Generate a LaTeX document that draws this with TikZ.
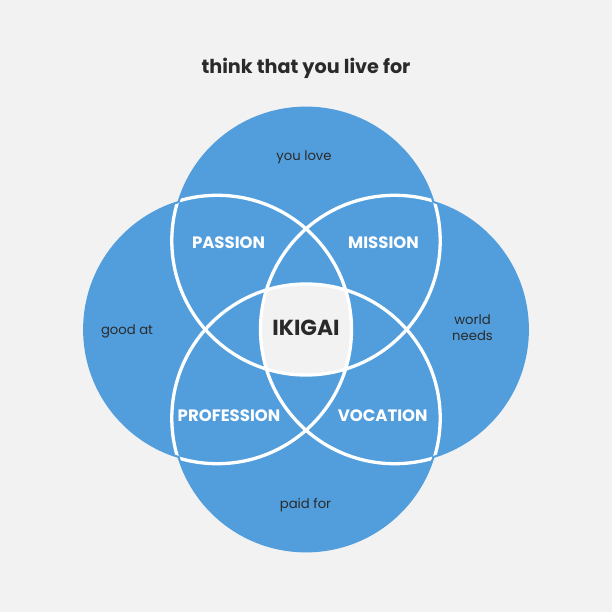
\documentclass[tikz,border=0pt]{standalone}
\usepackage{fontspec}
\setmainfont{Poppins}
\definecolor{bg}{HTML}{F2F2F2}
\definecolor{petal}{HTML}{529EDC}
\definecolor{ink}{HTML}{2A2A2A}
\begin{document}
\begin{tikzpicture}[x=1pt,y=-1pt,
  small/.style={font=\fontsize{13.2}{16.5}\selectfont, text=ink, align=center, inner sep=0pt},
  zone/.style={font=\fontsize{16.5}{18}\selectfont\bfseries, text=white, inner sep=0pt},
  outline/.style={draw=white, line width=3.3pt}]
\fill[bg] (0,0) rectangle (612,612);
\useasboundingbox (0,0) rectangle (612,612);
\def\R{134.2}
\def\Rc{132.0}
\coordinate (ct) at (306,240.8);
\coordinate (cl) at (217.3,329.5);
\coordinate (cr) at (394.7,329.5);
\coordinate (cb) at (306,418.2);
% union of the four circles
\fill[petal] (ct) circle[radius=\R] (cl) circle[radius=\R] (cr) circle[radius=\R] (cb) circle[radius=\R];
% centre region: intersection of all four
\begin{scope}
  \clip (ct) circle[radius=\R];
  \clip (cl) circle[radius=\R];
  \clip (cr) circle[radius=\R];
  \clip (cb) circle[radius=\R];
  \fill[bg] (0,0) rectangle (612,612);
\end{scope}
% white outlines inside the union
\begin{scope}
  \clip (ct) circle[radius=\Rc] (cl) circle[radius=\Rc] (cr) circle[radius=\Rc] (cb) circle[radius=\Rc];
  \draw[outline] (ct) circle[radius=\R];
  \draw[outline] (cl) circle[radius=\R];
  \draw[outline] (cr) circle[radius=\R];
  \draw[outline] (cb) circle[radius=\R];
\end{scope}
% texts
\node[font=\fontsize{19.2}{22}\selectfont\bfseries, text=ink, inner sep=0pt] (title) at (306,68) {think that you live for};
\node[small] (love) at (304,157) {you love};
\node[small] (good) at (127,331) {good at};
\node[small] (world) at (472.5,327.5) {world\\needs};
\node[small] (paid) at (305.5,505) {paid for};
\node[zone] (passion) at (228.5,243) {PASSION};
\node[zone] (mission) at (383.5,243) {MISSION};
\node[zone] (profession) at (229,415.7) {PROFESSION};
\node[zone] (vocation) at (382.7,415.7) {VOCATION};
\node[font=\fontsize{21.8}{24}\selectfont\bfseries, text=ink, inner sep=0pt] (ikigai) at (306,328) {IKIGAI};
\end{tikzpicture}
\end{document}
